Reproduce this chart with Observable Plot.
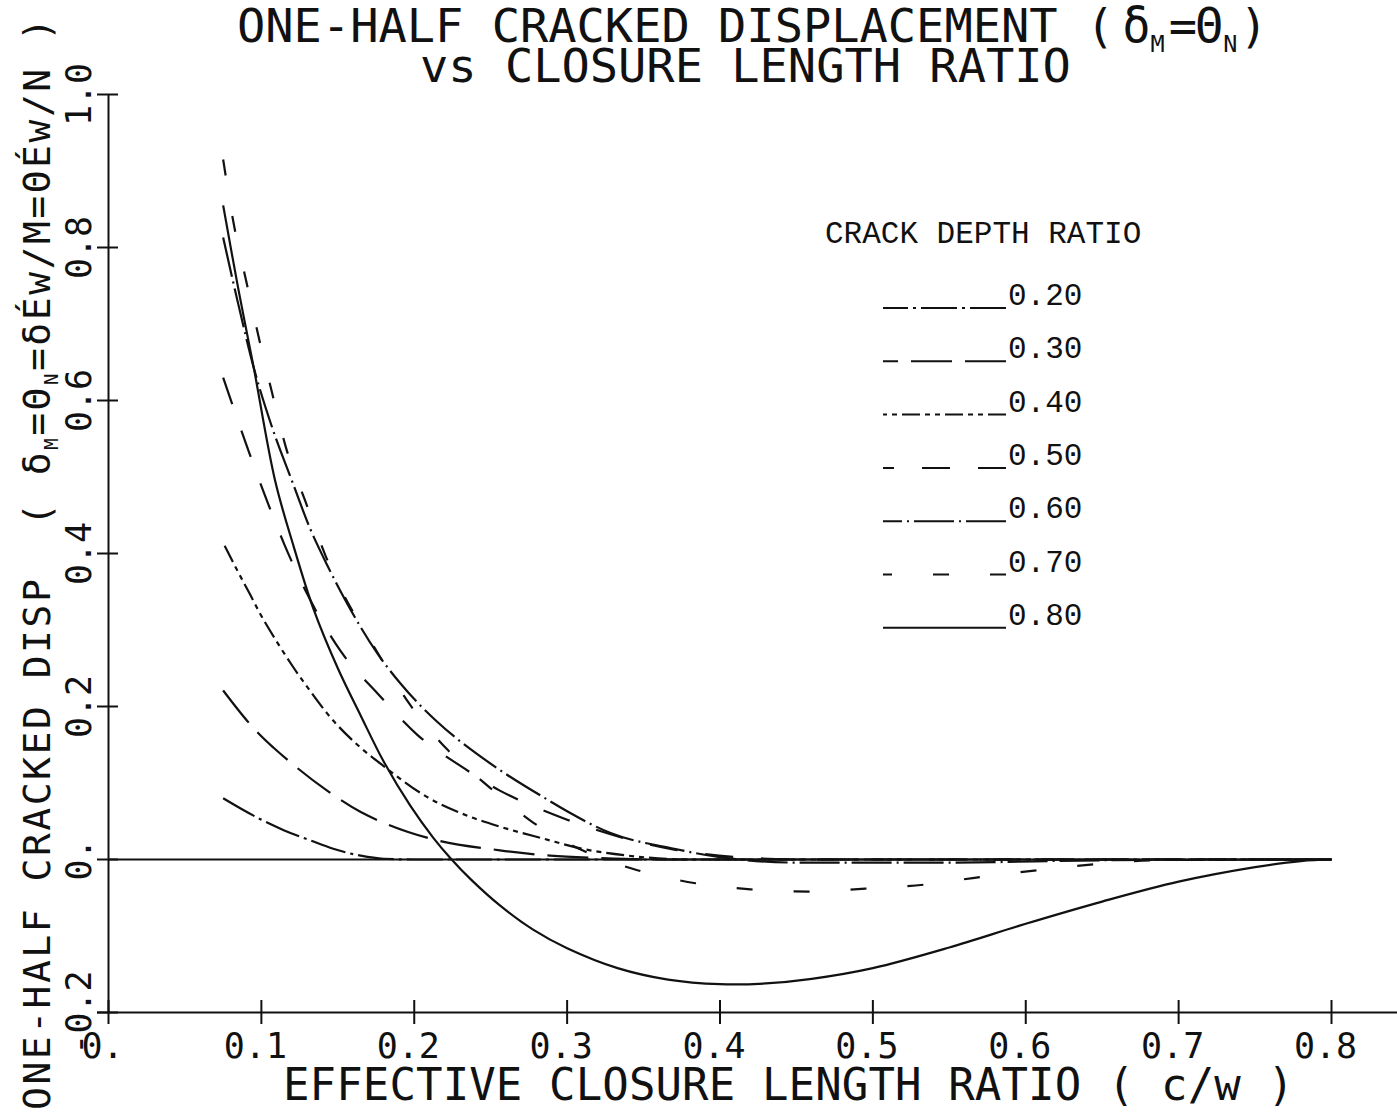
<!DOCTYPE html>
<html><head><meta charset="utf-8">
<script src="https://cdn.jsdelivr.net/npm/d3@7"></script>
<script src="https://cdn.jsdelivr.net/npm/@observablehq/plot@0.6"></script>
<style>
html,body{margin:0;padding:0;background:#fff;}
#chart{width:1397px;height:1118px;overflow:hidden;}
</style></head><body><div id="chart"></div>
<script>
// ---- data ----
const depthRatios = ["0.20","0.30","0.40","0.50","0.60","0.70","0.80"];

const x20 = [0.075,0.087,0.099,0.115,0.132,0.147,0.165,0.18,0.2,0.8];
const y20 = [0.080,0.066,0.053,0.038,0.025,0.014,0.005,0.001,0,0];

const x30 = [0.075,0.093,0.099,0.108,0.119,0.143,0.165,0.18,0.213,0.256,0.289,0.32,0.36,0.8];
const y30 = [0.221,0.176,0.163,0.146,0.127,0.090,0.062,0.048,0.026,0.012,0.005,0.002,0,0];

const x40 = [0.076,0.085,0.093,0.099,0.11,0.121,0.132,0.143,0.165,0.18,0.209,0.235,0.256,0.285,0.31,0.34,0.38,0.8];
const y40 = [0.41,0.375,0.345,0.322,0.285,0.251,0.22,0.191,0.146,0.122,0.081,0.057,0.043,0.027,0.014,0.005,0,0];

const x50 = [0.075,0.081,0.086,0.092,0.098,0.105,0.115,0.13,0.152,0.176,0.202,0.232,0.256,0.274,0.3,0.33,0.37,0.42,0.46,0.8];
const y50 = [0.63,0.595,0.566,0.532,0.499,0.462,0.412,0.347,0.272,0.217,0.163,0.12,0.09,0.073,0.052,0.032,0.013,0.002,0,0];

const x60 = [0.075,0.085,0.095,0.107,0.12,0.132,0.143,0.156,0.176,0.191,0.215,0.241,0.256,0.289,0.3,0.328,0.37,0.4,0.45,0.55,0.65,0.8];
const y60 = [0.813,0.725,0.643,0.565,0.495,0.432,0.385,0.335,0.269,0.230,0.18,0.138,0.117,0.076,0.063,0.035,0.014,0.003,-0.004,-0.004,-0.001,0];

const x70 = [0.075,0.082,0.09,0.098,0.107,0.116,0.129,0.142,0.177,0.197,0.221,0.25,0.278,0.31,0.346,0.384,0.42,0.458,0.495,0.533,0.57,0.608,0.646,0.683,0.72,0.8];
const y70 = [0.915,0.83,0.757,0.685,0.61,0.539,0.467,0.397,0.267,0.203,0.145,0.093,0.048,0.012,-0.014,-0.031,-0.039,-0.042,-0.038,-0.033,-0.023,-0.014,-0.006,-0.001,0,0];

const x80 = [0.075,0.085,0.095,0.109,0.121,0.134,0.15,0.165,0.18,0.1975,0.2126,0.224,0.237,0.256,0.278,0.30,0.333,0.366,0.40,0.43,0.46,0.5,0.55,0.6,0.65,0.7,0.75,0.78,0.8];
const y80 = [0.855,0.745,0.643,0.495,0.410,0.328,0.250,0.188,0.128,0.070,0.028,0.001,-0.026,-0.060,-0.092,-0.116,-0.142,-0.157,-0.163,-0.162,-0.156,-0.142,-0.115,-0.084,-0.055,-0.029,-0.010,-0.002,0];

const seriesX = [x20,x30,x40,x50,x60,x70,x80];
const seriesY = [y20,y30,y40,y50,y60,y70,y80];

const xTicks = [0,0.1,0.2,0.3,0.4,0.5,0.6,0.7,0.8];
const xTickLabels = ["0.","0.1","0.2","0.3","0.4","0.5","0.6","0.7","0.8"];
const yTicks = [-0.2,0,0.2,0.4,0.6,0.8,1.0];
const yTickLabels = ["-0.2","0.","0.2","0.4","0.6","0.8","1.0"];
const xDomain = [0,0.8];
const yDomain = [-0.2,1.0];

// ---- styles ----
const ink = "#111";
const dashStyles = ["36,5,3,5","41,13","18,5,5,5,5,5","28,28","40,5,2,5","16,41",null];
const curveTypes = ["monotone-x","monotone-x","monotone-x","monotone-x","monotone-x","monotone-x","catmull-rom"];
const mono = "'DejaVu Sans Mono', monospace";

const seriesMarks = depthRatios.map((name, k) => {
  const rows = seriesX[k].map((x, i) => ({x, y: seriesY[k][i], name}));
  return Plot.line(rows, {x: "x", y: "y", curve: curveTypes[k], stroke: ink, strokeWidth: 2.2,
    strokeDasharray: dashStyles[k] || undefined, strokeLinecap: "butt"});
});

const chart = Plot.plot({
  width: 1397, height: 1118,
  marginLeft: 108, marginRight: 66, marginTop: 94, marginBottom: 106,
  x: {domain: xDomain}, y: {domain: yDomain},
  style: {fontFamily: mono, background: "#fff", color: ink},
  marks: [
    Plot.ruleY([yDomain[0]], {stroke: ink, strokeWidth: 2, insetLeft: -11, insetRight: -66}),
    Plot.ruleX([xDomain[0]], {y1: yDomain[0], y2: yDomain[1], stroke: ink, strokeWidth: 2}),
    Plot.ruleX(xTicks, {x: d => d, y1: yDomain[0], y2: yDomain[0], insetTop: -12, insetBottom: -12, stroke: ink, strokeWidth: 2}),
    Plot.ruleY(yTicks, {y: d => d, x1: xDomain[0], x2: xDomain[0], insetLeft: -11, insetRight: -10, stroke: ink, strokeWidth: 2}),
    Plot.axisX(xTicks, {tickSize: 0, tickPadding: 21, fontSize: 35, dx: -6, label: null,
      tickFormat: d => xTickLabels[xTicks.indexOf(d)]}),
    Plot.axisY(yTicks, {tickSize: 0, tickPadding: 29, fontSize: 35, rotate: -90, textAnchor: "middle", label: null,
      tickFormat: d => yTickLabels[yTicks.indexOf(d)]}),
    Plot.ruleY([0], {x1: xDomain[0], x2: xDomain[1], stroke: ink, strokeWidth: 2}),
    ...seriesMarks
  ]
});
document.getElementById("chart").appendChild(chart);

// ---- titles, axis labels, legend ----
const svg = d3.select(chart);
// parts: strings, or objects {t, sub, dx}
function addText(opts) {
  const {x, y, size, family = mono, rotate = 0, parts, textLength, anchor = "start"} = opts;
  const t = svg.append("text")
    .attr("transform", `translate(${x},${y}) rotate(${rotate})`)
    .attr("font-family", family).attr("font-size", size).attr("fill", ink)
    .attr("text-anchor", anchor);
  if (textLength) t.attr("textLength", textLength).attr("lengthAdjust", "spacing");
  let shifted = false;
  parts.forEach(p => {
    const o = typeof p === "string" ? {t: p} : p;
    const s = t.append("tspan").text(o.t);
    if (o.dx) s.attr("dx", o.dx);
    if (o.sub) { s.attr("font-size", size * 0.5).attr("dy", size * 0.22); shifted = true; }
    else if (shifted) { s.attr("dy", -size * 0.22); shifted = false; }
  });
  return t;
}

addText({x: 237, y: 42, size: 47, parts: ["ONE-HALF CRACKED DISPLACEMENT (", {t: "δ", dx: 8}, {t: "M", sub: true},
  {t: "=", dx: 4}, {t: "Θ", dx: -2}, {t: "N", sub: true}, {t: ")", dx: 2}]});
addText({x: 420, y: 82, size: 47, parts: ["vs CLOSURE LENGTH RATIO"]});
addText({x: 283, y: 1100, size: 44, parts: ["EFFECTIVE CLOSURE LENGTH RATIO ( c/w )"], textLength: 1011});
addText({x: 50, y: 1110, size: 38, rotate: -90, textLength: 1092,
  parts: ["ONE-HALF CRACKED DISP  ( δ", {t: "M", sub: true}, "=Θ", {t: "N", sub: true}, "=δÉw/M=ΘÉw/N )"]});

const legendFont = "'Liberation Mono', monospace";
addText({x: 825, y: 243, size: 31, family: legendFont, parts: ["CRACK DEPTH RATIO"]});
depthRatios.forEach((name, k) => {
  const yy = 308 + k * 53.3;
  svg.append("line").attr("x1", 1006).attr("x2", 883).attr("y1", yy).attr("y2", yy)
    .attr("stroke", ink).attr("stroke-width", 2)
    .attr("stroke-dasharray", dashStyles[k] || null);
  addText({x: 1008, y: yy - 3, size: 31, family: legendFont, parts: [name]});
});
</script>
</body></html>
